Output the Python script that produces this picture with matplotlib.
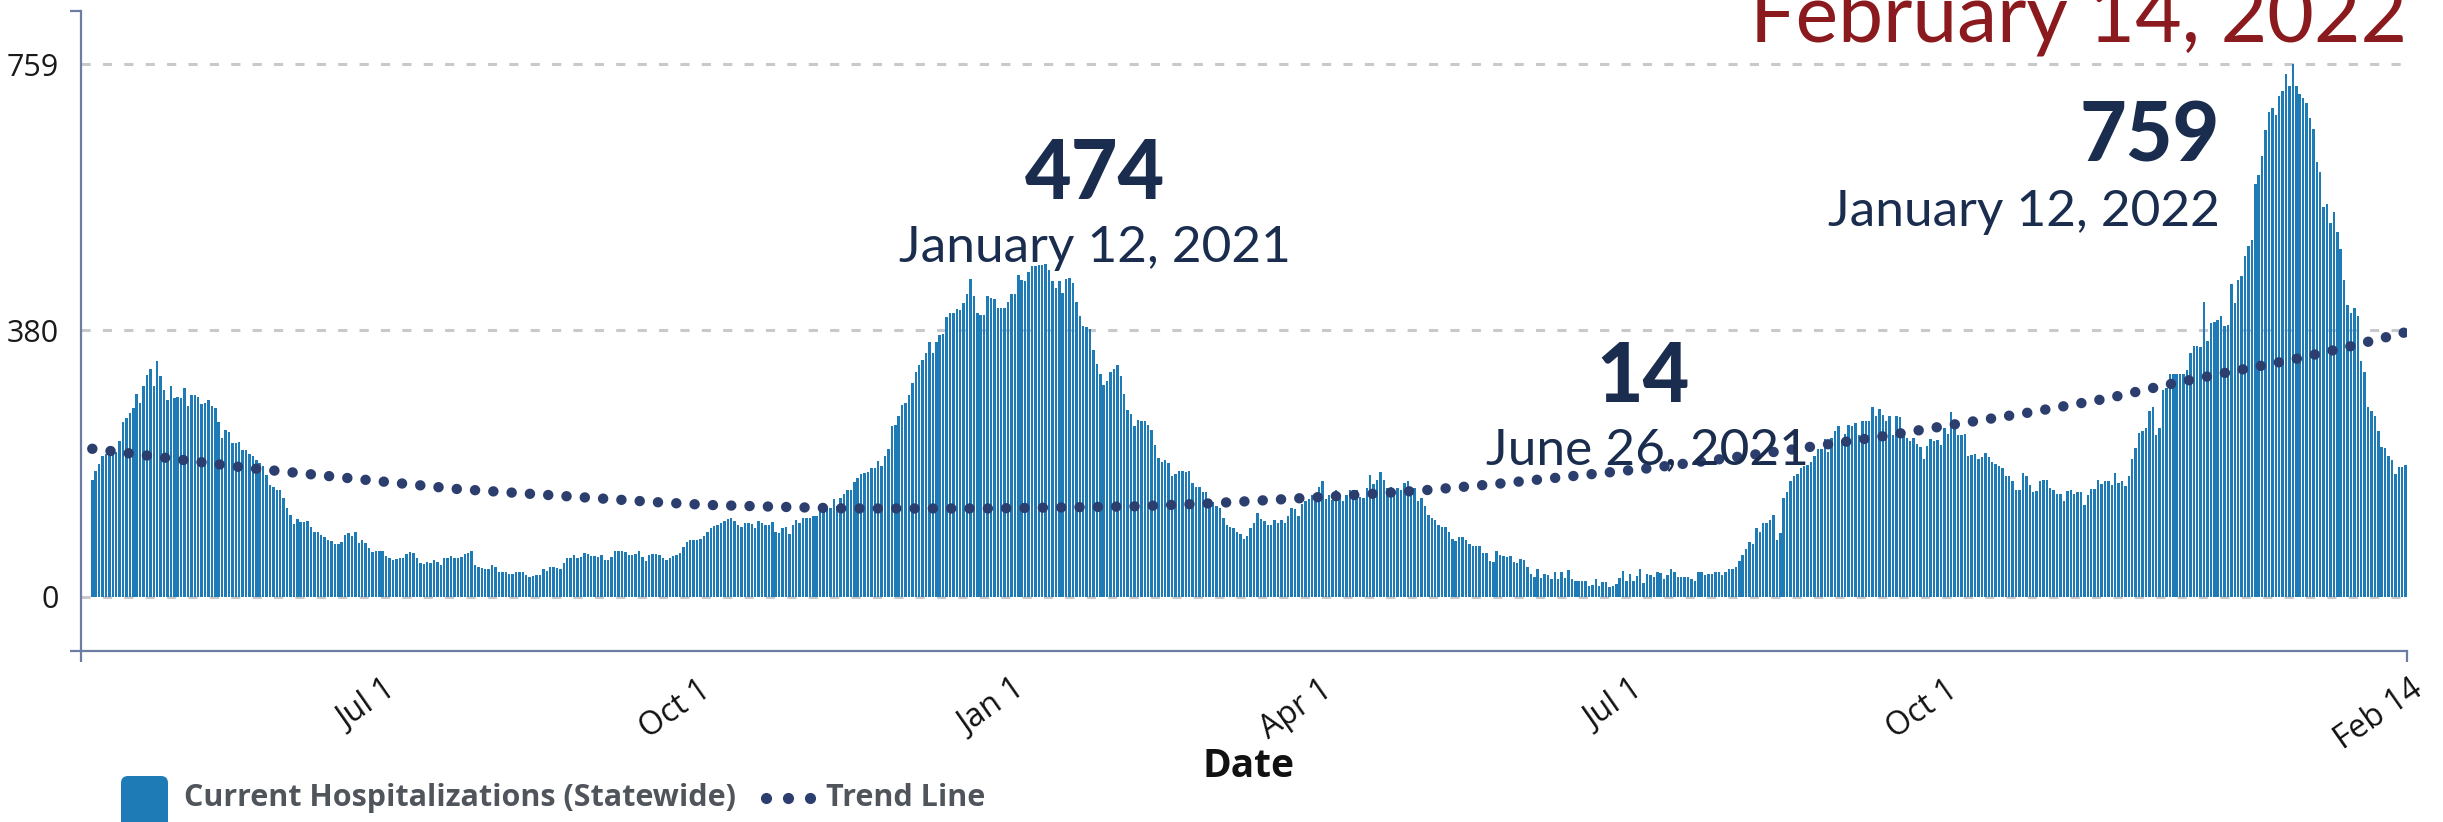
import pandas as pd
import matplotlib
matplotlib.use('Agg')
import matplotlib.pyplot as plt
import matplotlib.dates as mdates
from matplotlib import font_manager
from matplotlib.patches import FancyBboxPatch
from matplotlib.lines import Line2D
from matplotlib.transforms import IdentityTransform, ScaledTranslation

# ---- data (daily current hospitalizations) ----
start_date = '2020-04-08'

hosp_spring_2020 = [
    167, 180, 190, 201, 203, 207, 207, 207, 222, 249,
    255, 262, 269, 289, 276, 300, 316, 324, 300, 336,
    315, 295, 280, 300, 283, 285, 283, 298, 272, 287,
    287, 285, 275, 276, 281, 272, 269, 249, 227, 238,
    235, 219, 219, 221, 209, 209, 204, 201, 195, 191,
    187, 173, 160, 157, 153, 152, 141, 127, 116, 104,
    111, 107, 107, 108, 100, 93, 93, 88, 86, 81,
    79, 75, 75, 78, 88, 91, 87, 92, 77, 81,
    77, 70, 64, 66, 66, 66, 59, 55, 52, 54,
    55, 56, 61, 64, 62, 56, 49, 47, 50, 49,
    52, 50, 46, 55, 56, 59, 55, 55, 57, 61,
    62, 66,
]
hosp_fall_2020 = [
    45, 42, 41, 40, 40, 45, 42, 36, 35, 35,
    33, 33, 36, 36, 36, 31, 29, 30, 31, 31,
    40, 37, 42, 42, 41, 40, 49, 56, 56, 60,
    55, 57, 63, 61, 59, 59, 57, 60, 52, 52,
    57, 65, 65, 66, 64, 60, 60, 61, 65, 57,
    51, 60, 61, 61, 60, 56, 52, 56, 59, 60,
    62, 71, 78, 81, 81, 81, 82, 87, 92, 98,
    101, 102, 106, 108, 111, 113, 108, 102, 100, 106,
    106, 104, 98, 108, 106, 102, 102, 107, 92, 91,
    98, 100, 90, 102, 110, 106, 113, 112, 113, 115,
    115, 125, 125, 126, 126, 140, 130, 141, 146, 152,
    152, 164, 170, 175,
]
hosp_winter_2021 = [
    176, 178, 184, 183, 194, 187, 201, 210, 243, 245,
    258, 273, 276, 288, 305, 320, 330, 337, 348, 363,
    348, 363, 373, 375, 399, 405, 404, 410, 409, 419,
    431, 453, 428, 404, 402, 402, 428, 426, 424, 412,
    412, 412, 420, 431, 431, 458, 452, 450, 463, 471,
    471, 473, 473, 474, 465, 450, 440, 450, 433, 453,
    454, 447, 420, 400, 386, 385, 382, 352, 332, 318,
    302, 307, 320, 325, 331, 315, 289, 266, 261, 243,
    252, 251, 250, 245, 238, 217, 198, 192, 195, 191,
    172, 175, 180, 180, 178, 180, 162, 156, 157, 150,
    150, 140, 135, 130, 126, 112, 102, 100, 98, 93,
    90, 82, 87, 98,
]
hosp_spring_2021 = [
    105, 120, 111, 108, 103, 103, 110, 105, 110, 106,
    115, 127, 125, 115, 132, 137, 140, 145, 142, 156,
    165, 140, 145, 138, 152, 145, 137, 145, 152, 152,
    152, 142, 141, 155, 173, 161, 167, 178, 167, 155,
    156, 153, 155, 152, 162, 165, 153, 155, 137, 141,
    130, 116, 113, 110, 102, 100, 99, 92, 82, 80,
    85, 86, 81, 75, 72, 72, 72, 62, 63, 51,
    50, 66, 60, 58, 57, 59, 50, 48, 54, 52,
    42, 33, 28, 40, 27, 33, 31, 25, 35, 26,
    35, 27, 38, 25, 23, 23, 22, 22, 15, 17,
    25, 15, 21, 21, 14, 15, 18, 27, 37, 23,
    33, 22, 30, 40,
]
hosp_summer_2021 = [
    20, 32, 31, 28, 36, 34, 26, 31, 40, 36,
    29, 29, 29, 29, 26, 22, 35, 35, 31, 32,
    33, 36, 36, 31, 36, 40, 40, 43, 51, 60,
    68, 78, 76, 98, 93, 105, 106, 110, 116, 81,
    91, 141, 150, 165, 172, 175, 184, 187, 188, 192,
    201, 210, 210, 225, 206, 227, 236, 243, 223, 232,
    245, 243, 248, 230, 250, 250, 250, 270, 257, 268,
    259, 250, 257, 230, 257, 256, 235, 227, 222, 226,
    218, 213, 197, 215, 225, 222, 223, 217, 240, 232,
    263, 247, 231, 231, 232, 201, 202, 204, 197, 200,
    205, 200, 192, 190, 187, 183, 172, 172, 165, 153,
    152, 177, 172,
]
hosp_winter_2022 = [
    160, 150, 151, 165, 166, 167, 155, 152, 146, 146,
    136, 151, 153, 147, 149, 149, 131, 145, 154, 154,
    167, 161, 165, 165, 160, 176, 162, 165, 158, 172,
    197, 212, 234, 236, 240, 265, 270, 231, 240, 295,
    297, 317, 317, 317, 317, 317, 323, 347, 357, 358,
    356, 420, 364, 390, 391, 395, 400, 386, 387, 445,
    418, 452, 457, 485, 500, 508, 588, 601, 628, 665,
    691, 697, 687, 713, 720, 745, 727, 759, 728, 716,
    710, 703, 682, 666, 620, 605, 555, 559, 533, 548,
    520, 495, 451, 416, 405, 412, 400, 336, 321, 270,
    265, 257, 236, 213, 212, 201, 195, 175, 185, 185,
    188,
]

trend_dates = ['2020-04-08', '2020-05-23', '2020-07-23', '2020-09-20', '2020-10-05',
               '2020-11-14', '2020-12-26', '2021-02-07', '2021-02-28', '2021-03-22',
               '2021-04-12', '2021-05-03', '2021-05-24', '2021-06-15', '2021-07-07',
               '2021-07-28', '2021-08-17', '2021-09-13', '2021-10-04', '2021-10-26',
               '2021-11-19', '2021-12-06', '2021-12-24', '2022-01-12', '2022-01-28',
               '2022-02-14']
trend_values = [211, 184, 154, 135, 131, 126, 126, 129, 133, 139,
                145, 152, 161, 172, 183, 196, 209, 228, 245, 262,
                283, 302, 320, 338, 356, 377]

y_ticks = [0, 380, 759]
x_tick_dates = ['2020-07-01', '2020-10-01', '2021-01-01', '2021-04-01',
                '2021-07-01', '2021-10-01', '2022-02-14']
x_tick_labels = ['Jul 1', 'Oct 1', 'Jan 1', 'Apr 1', 'Jul 1', 'Oct 1', 'Feb 14']

hospitalizations = (hosp_spring_2020 + hosp_fall_2020 + hosp_winter_2021 +
                    hosp_spring_2021 + hosp_summer_2021 + hosp_winter_2022)
dates = pd.date_range(start_date, periods=len(hospitalizations), freq='D')

# ---- fonts ----
available = {f.name for f in font_manager.fontManager.ttflist}


def pick(*names):
    for n in names:
        if n in available:
            return n
    return 'DejaVu Sans'


narrow = pick('Liberation Sans Narrow', 'Open Sans', 'DejaVu Sans')
sans = pick('Open Sans', 'Noto Sans', 'DejaVu Sans')
display = pick('Lato', 'Open Sans', 'DejaVu Sans')

bar_color = '#1f7bb6'
trend_color = '#2b3e6e'
axis_color = '#6b7da3'
navy = '#1b2d4f'
W, H = 2443, 822

# ---- figure ----
fig = plt.figure(figsize=(W / 100, H / 100), dpi=100)
ax = fig.add_axes([81 / W, 171 / H, 2326 / W, 640 / H])

for v in y_ticks:
    ax.axhline(v, color='#c9c9cd', lw=2.2, dashes=(3, 4), zorder=1)

ax.bar(dates, hospitalizations, width=0.72, color=bar_color, linewidth=0, zorder=2)
ax.plot(pd.to_datetime(trend_dates), trend_values, color=trend_color, lw=7.5,
        dashes=(0.01, 1.75), dash_capstyle='round', zorder=3)

x0 = mdates.date2num(pd.Timestamp(start_date))
xlim = (x0 - 3.3, x0 + 677.4)
ylim = (-77, 834.5)
ax.set_xlim(xlim)
ax.set_ylim(ylim)

for s in ['top', 'right']:
    ax.spines[s].set_visible(False)
for s in ['left', 'bottom']:
    ax.spines[s].set_color(axis_color)
    ax.spines[s].set_linewidth(1.6)

ax.set_yticks(y_ticks)
ax.set_yticklabels([str(v) for v in y_ticks], fontfamily=narrow, fontsize=22, color='#1a1a1a')
ax.set_yticks(list(ylim), minor=True)
ax.set_xticks(mdates.date2num(pd.to_datetime(x_tick_dates)))
ax.set_xticklabels(x_tick_labels, fontfamily=sans, fontsize=23, color='#111111',
                   rotation=35, ha='right', va='top', rotation_mode='anchor')
ax.set_xticks(list(xlim), minor=True)
ax.tick_params(which='major', length=0)
ax.tick_params(axis='y', which='major', pad=16)
ax.tick_params(axis='x', which='major', pad=16)
ax.tick_params(which='minor', length=8, width=1.6, color=axis_color, direction='out')
shift = ScaledTranslation(4 / 100, 0, fig.dpi_scale_trans)
for lab in ax.get_xticklabels():
    lab.set_transform(lab.get_transform() + shift)

# ---- annotations ----
fig.text(1095 / W, (H - 199) / H, '474', fontfamily=display, fontweight='black',
         fontsize=58, color=navy, ha='center', va='baseline')
fig.text(1095 / W, (H - 262) / H, 'January 12, 2021', fontfamily=display,
         fontsize=37, color=navy, ha='center', va='baseline')
fig.text(1643 / W, (H - 402) / H, '14', fontfamily=display, fontweight='black',
         fontsize=58, color=navy, ha='center', va='baseline')
fig.text(1647 / W, (H - 464) / H, 'June 26, 2021', fontfamily=display,
         fontsize=37, color=navy, ha='center', va='baseline')
fig.text(2220 / W, (H - 162) / H, '759', fontfamily=display, fontweight='black',
         fontsize=58, color=navy, ha='right', va='baseline')
fig.text(2220 / W, (H - 226) / H, 'January 12, 2022', fontfamily=display,
         fontsize=37, color=navy, ha='right', va='baseline')
fig.text(2407 / W, (H - 42) / H, 'February 14, 2022', fontfamily=display,
         fontsize=58, color='#8b1a1f', ha='right', va='baseline')

fig.text(1248 / W, (H - 777) / H, 'Date', fontfamily=sans, fontweight='bold',
         fontsize=28, color='#111111', ha='center', va='baseline')

# ---- legend ----
fig.add_artist(FancyBboxPatch((121, -12), 47, 58, boxstyle='round,pad=0,rounding_size=7',
                              facecolor=bar_color, edgecolor='none',
                              transform=IdentityTransform()))
fig.text(184 / W, 24 / H, 'Current Hospitalizations (Statewide)', fontfamily=sans,
         fontweight='bold', fontsize=22, color='#50555c', ha='left', va='center')
fig.add_artist(Line2D([766, 788, 810], [24, 24, 24], linestyle='none', marker='o',
                      markersize=7, color=trend_color, transform=IdentityTransform()))
fig.text(826 / W, 24 / H, 'Trend Line', fontfamily=sans, fontweight='bold',
         fontsize=22, color='#50555c', ha='left', va='center')

fig.savefig('out.png', dpi=100)
